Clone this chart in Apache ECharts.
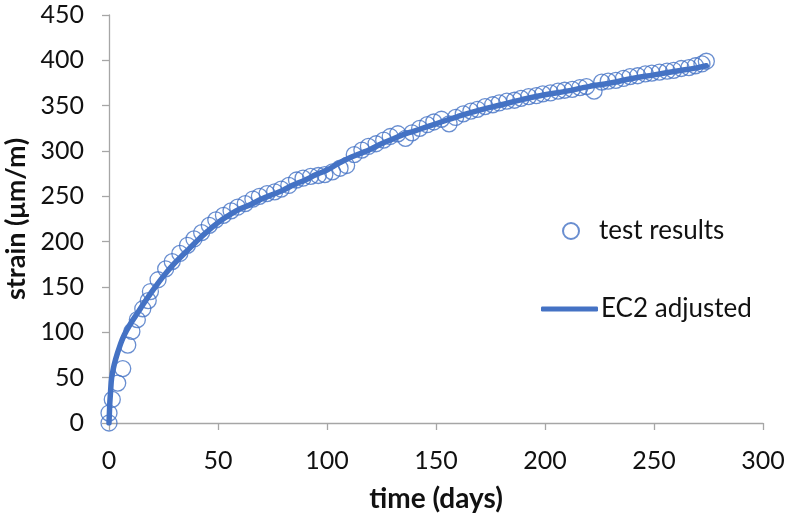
<!DOCTYPE html>
<html>
<head>
<meta charset="utf-8">
<script src="https://cdn.jsdelivr.net/npm/echarts@6/dist/echarts.min.js"></script>
<style>html,body{margin:0;padding:0;background:#fff;}#c{width:787px;height:519px;}</style>
</head>
<body>
<div id="c"></div>
<script>
// test results (time in days, strain in µm/m)
const testDays = [0, 0, 1.5, 4, 6.3, 8.6, 10.5, 13, 15.5, 18, 19, 22.5, 26, 29, 32.5, 36, 39, 42.5, 46, 49, 52.5, 56, 59, 62.5, 66, 69, 72.5, 76, 79, 82.5, 86, 89, 92.5, 96, 99, 102.5, 106, 109, 112.5, 116, 119, 122.5, 126, 129, 132.5, 136, 139, 142.5, 146, 149, 152.5, 156, 159, 162.5, 166, 169, 172.5, 176, 179, 182.5, 186, 189, 192.5, 196, 199, 202.5, 206, 209, 212.5, 216, 219, 222.5, 226, 229, 232.5, 236, 239, 242.5, 246, 249, 252.5, 256, 259, 262.5, 266, 269, 272, 274];
const testStrain = [0, 11, 26, 44, 60, 86, 101, 114, 126, 135, 145, 158, 170, 178, 187, 196, 203, 210, 218, 224, 229, 234, 238, 242, 247, 250, 253, 255, 258, 262, 268, 270, 272, 273, 274, 277, 281, 284, 296, 301, 305, 308, 312, 316, 319, 314, 320, 325, 329, 332, 335, 330, 337, 341, 344, 346, 349, 351, 353, 355, 356, 358, 360, 361, 363, 364, 366, 367, 368, 370, 371, 366, 376, 377, 378, 380, 382, 383, 385, 386, 387, 388, 389, 391, 392, 394, 396, 399];
// EC2 adjusted curve
const ec2Days = [0, 1, 2, 3, 5, 7, 10, 13, 16, 20, 25, 30, 35, 40, 45, 50, 55, 60, 65, 70, 75, 80, 85, 90, 95, 100, 105, 110, 115, 120, 125, 130, 135, 140, 145, 150, 160, 170, 180, 190, 200, 210, 220, 230, 240, 250, 260, 270, 274];
const ec2Strain = [0, 45, 60, 70, 85, 97, 110, 121, 132, 146, 162, 176, 188, 200, 211, 221, 229, 236, 241, 247, 252, 257, 263, 268, 274, 279, 286, 292, 297, 302, 308, 313, 318, 322, 326, 330, 338, 345, 351, 357, 362, 366, 371, 375, 380, 384, 388, 392, 394];
const xTicks = [0, 50, 100, 150, 200, 250, 300];
const yTicks = [0, 50, 100, 150, 200, 250, 300, 350, 400, 450];

const blue = '#4472C4';
const font = 'Lato, "Open Sans", sans-serif';
const txt = '#111111';
const chart = echarts.init(document.getElementById('c'), null, {renderer: 'canvas'});
chart.setOption({
  animation: false,
  backgroundColor: '#fff',
  grid: {left: 109, right: 24, top: 15, bottom: 96, containLabel: false, outerBoundsMode: 'none'},
  xAxis: {
    type: 'value', min: xTicks[0], max: xTicks[xTicks.length - 1], interval: 50,
    name: 'time (days)', nameLocation: 'middle', nameGap: 62,
    nameTextStyle: {fontFamily: font, fontSize: 28, fontWeight: 'bold', color: txt},
    axisLine: {lineStyle: {color: '#a6a6a6', width: 1.3}},
    axisTick: {show: true, length: 7, lineStyle: {color: '#a6a6a6', width: 1.3}},
    axisLabel: {fontFamily: font, fontSize: 25, color: txt, margin: 25},
    splitLine: {show: false}
  },
  yAxis: {
    type: 'value', min: yTicks[0], max: yTicks[yTicks.length - 1], interval: 50,
    name: 'strain (μm/m)', nameLocation: 'middle', nameGap: 72, nameRotate: 90,
    nameTextStyle: {fontFamily: font, fontSize: 27, fontWeight: 'bold', color: txt},
    axisLine: {show: true, lineStyle: {color: '#a6a6a6', width: 1.3}},
    axisTick: {show: true, length: 7, lineStyle: {color: '#a6a6a6', width: 1.3}},
    axisLabel: {fontFamily: font, fontSize: 25, color: txt, margin: 25},
    splitLine: {show: false}
  },
  legend: [
    {data: [{name: 'test results', icon: 'circle'}], orient: 'vertical', left: 557, top: 213,
     itemWidth: 16, itemHeight: 16, textStyle: {fontFamily: font, fontSize: 26, color: txt, padding: [0, 0, 0, 15]}},
    {data: [{name: 'EC2 adjusted', icon: 'roundRect'}], orient: 'vertical', left: 536, top: 291,
     itemWidth: 57, itemHeight: 5, textStyle: {fontFamily: font, fontSize: 26, color: txt, padding: [0, 0, 0, -2]}}
  ],
  series: [
    {
      name: 'test results', type: 'scatter', z: 2,
      symbol: 'circle', symbolSize: 16,
      itemStyle: {color: 'rgba(255,255,255,0)', borderColor: blue, borderWidth: 1.3},
      data: testDays.map((d, i) => [d, testStrain[i]])
    },
    {
      name: 'EC2 adjusted', type: 'line', z: 3, smooth: true,
      showSymbol: false, symbol: 'none',
      lineStyle: {color: blue, width: 5.5, cap: 'round'},
      itemStyle: {color: blue},
      data: ec2Days.map((d, i) => [d, ec2Strain[i]])
    }
  ]
});
</script>
</body>
</html>
